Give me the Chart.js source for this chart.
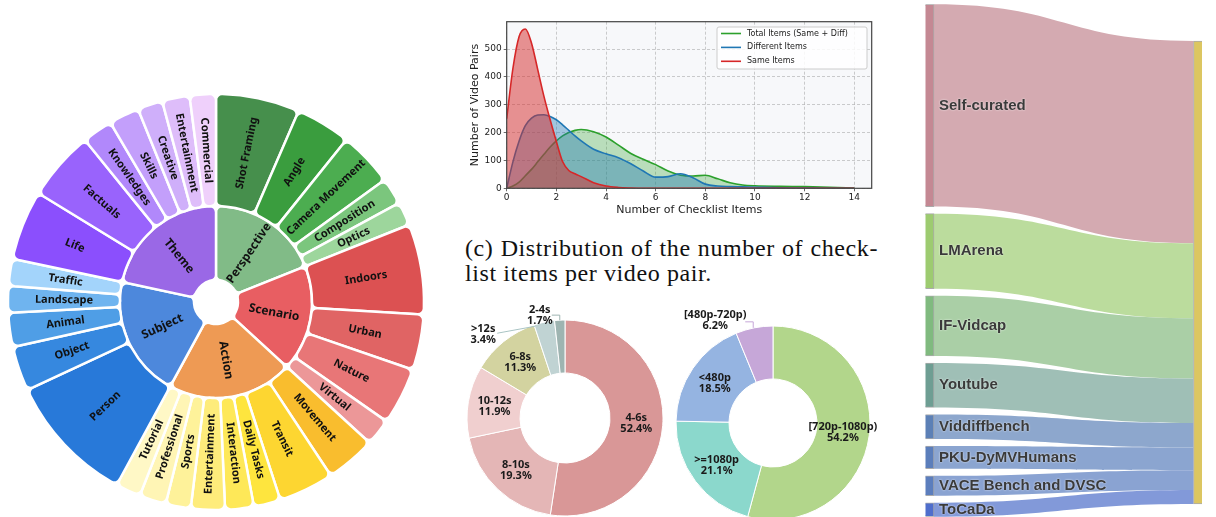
<!DOCTYPE html>
<html>
<head>
<meta charset="utf-8">
<script src="https://cdn.jsdelivr.net/npm/chart.js@4.4.1/dist/chart.umd.min.js"></script>
<style>
  html, body { margin: 0; padding: 0; background: #fff; }
  body { position: relative; width: 1216px; height: 517px; overflow: hidden; }
  canvas { position: absolute; }
  .caption { position: absolute; left: 465px; top: 236px; font-family: "Liberation Serif", serif; font-size: 24px; line-height: 25px; letter-spacing: 0.6px; color: #111; white-space: nowrap; }
  .caption span { display: inline-block; }
</style>
</head>
<body>
<canvas id="sunburst" width="440" height="517" style="left:0;top:0"></canvas>
<canvas id="checklistChart" width="420" height="222" style="left:460px;top:0"></canvas>
<div class="caption"><span id="capLine1">(c) Distribution of the number of check-</span><br><span>list items per video pair.</span></div>
<canvas id="durationChart" width="230" height="230" style="left:450px;top:300px"></canvas>
<canvas id="resolutionChart" width="210" height="230" style="left:670px;top:300px"></canvas>
<canvas id="sourceChart" width="311" height="517" style="left:905px;top:0"></canvas>
<script>
// ==================== data ====================
// sunburst: top level categories, clockwise from 12 o'clock
const topicCategories = ['Perspective', 'Scenario', 'Action', 'Subject', 'Theme'];
const topicColors = ['#81bb87', '#e85e62', '#ee9a54', '#4d88dc', '#9a68e6'];

const perspectiveItems = ['Shot Framing', 'Angle', 'Camera Movement', 'Composition', 'Optics'];
const perspectiveShare = [23.4, 15.4, 15.3, 7.5, 6.6];
const perspectiveColors = ['#468f4c', '#3a9d3e', '#4cad50', '#7bc67d', '#9dd69c'];

const scenarioItems = ['Indoors', 'Urban', 'Nature', 'Virtual'];
const scenarioShare = [25.3, 15.5, 16, 7.5];
const scenarioColors = ['#dc5152', '#e06464', '#e87677', '#ec9798'];

const actionItems = ['Movement', 'Transit', 'Daily Tasks', 'Interaction', 'Entertainment', 'Sports', 'Professional', 'Tutorial'];
const actionShare = [14, 15.5, 7.5, 8, 9.5, 7, 7.5, 7];
const actionColors = ['#f9bd2e', '#fdd631', '#fee53e', '#fee858', '#feec7b', '#fef29a', '#fff5b5', '#fff8c6'];

const subjectItems = ['Person', 'Object', 'Animal', 'Landscape', 'Traffic'];
const subjectShare = [36.5, 12.5, 9.5, 7.5, 7.5];
const subjectColors = ['#2879d9', '#3688df', '#4f9ee6', '#6fb4ef', '#a3d4fb'];

const themeItems = ['Life', 'Factuals', 'Knowledges', 'Skills', 'Creative', 'Entertainment', 'Commercial'];
const themeShare = [19.5, 19.5, 8.5, 8.5, 7, 7.7, 7.3];
const themeColors = ['#8b4ffd', '#9963fc', '#b188fb', '#c39ffb', '#cfaffa', '#debdfa', '#efd0fb'];

// checklist KDE (x = number of checklist items)
const checklistX =     [0, 0.25, 0.5, 0.75, 1, 1.25, 1.5, 1.75, 2, 2.25, 2.5, 2.75, 3, 3.5, 4, 4.5, 5, 5.5, 6, 6.5, 7, 7.5, 8, 8.5, 9, 9.5, 10, 11, 12, 13, 14];
const totalItems =     [0, 8, 22, 45, 68, 95, 122, 148, 170, 188, 200, 208, 211, 203, 184, 155, 125, 104, 85, 62, 47, 44, 47, 34, 20, 12, 9, 7, 6, 4, 1];
const differentItems = [0, 95, 170, 225, 252, 263, 264, 258, 246, 228, 208, 188, 170, 140, 124, 110, 88, 62, 40, 42, 52, 38, 15, 8, 6, 5, 4, 2, 1, 0, 0];
const sameItems =      [250, 430, 545, 572, 521, 426, 330, 246, 168, 96, 64, 52, 42, 20, 8, 3, 1, 0, 0, 0, 0, 0, 0, 0, 0, 0, 0, 0, 0, 0, 0];
const checklistTicksX = [0, 2, 4, 6, 8, 10, 12, 14];
const checklistTicksY = [0, 100, 200, 300, 400, 500];

// video duration
const durationLabels = ['4-6s', '8-10s', '10-12s', '6-8s', '>12s', '2-4s'];
const durationShare = [52.4, 19.3, 11.9, 11.3, 3.4, 1.7];
const durationColors = ['#d99797', '#e4b6b6', '#f0cfcf', '#d3d3a0', '#c0d3d3', '#9eb4b1'];

// video resolution
const resolutionLabels = ['[720p-1080p)', '>=1080p', '<480p', '[480p-720p)'];
const resolutionShare = [54.2, 21.1, 18.5, 6.2];
const resolutionColors = ['#b2d68b', '#8bd8cc', '#95b4e1', '#c6a7d8'];

// data sources (sankey)
const sourceNames = ['Self-curated', 'LMArena', 'IF-Vidcap', 'Youtube', 'Viddiffbench', 'PKU-DyMVHumans', 'VACE Bench and DVSC', 'ToCaDa'];
const sourceShare = [43.7, 16.2, 13.0, 9.6, 5.3, 4.9, 4.3, 3.0];
const sourceNodeColors = ['#c48893', '#9dcb70', '#80ba7f', '#6e9e93', '#5c80b6', '#5b7ebb', '#5c7ebd', '#4f6ecc'];
const sourceLinkColors = ['#d4aab1', '#bbdc9d', '#aacfa6', '#9fbfb6', '#8da7cd', '#8ba5d0', '#8aa3d2', '#8299d9'];
const targetColor = '#dcc661';

// ==================== sunburst ====================
const groupItems = [perspectiveItems, scenarioItems, actionItems, subjectItems, themeItems];
const groupShare = [perspectiveShare, scenarioShare, actionShare, subjectShare, themeShare];
const groupColors = [perspectiveColors, scenarioColors, actionColors, subjectColors, themeColors];

const ringLabels = {
    id: 'ringLabels',
    afterDatasetsDraw(chart) {
        const ctx = chart.ctx;
        chart.data.datasets.forEach((ds, di) => {
            const meta = chart.getDatasetMeta(di);
            meta.data.forEach((arc, i) => {
                const p = arc.getProps(['x', 'y', 'startAngle', 'endAngle', 'innerRadius', 'outerRadius'], true);
                const mid = (p.startAngle + p.endAngle) / 2;
                const r = (p.innerRadius + p.outerRadius) / 2;
                // left half gets flipped so text never reads upside down
                const rot = mid > Math.PI / 2 ? mid - Math.PI : mid;
                ctx.save();
                ctx.translate(p.x + Math.cos(mid) * r, p.y + Math.sin(mid) * r);
                ctx.rotate(rot);
                ctx.font = ds.labelFont;
                ctx.fillStyle = '#111';
                ctx.textAlign = 'center';
                ctx.textBaseline = 'middle';
                ctx.fillText(ds.itemLabels[i], 0, 0);
                ctx.restore();
            });
        });
    }
};

new Chart(document.getElementById('sunburst'), {
    type: 'doughnut',
    data: {
        labels: groupItems.flat(),
        datasets: [{
            data: groupShare.flat(),
            itemLabels: groupItems.flat(),
            backgroundColor: groupColors.flat(),
            labelFont: 'bold 11px "Noto Sans"',
            weight: 112,
            borderColor: '#fff',
            borderWidth: 2.5,
            borderRadius: 6
        }, {
            data: groupShare.map(arr => arr.reduce((a, b) => a + b, 0)),
            itemLabels: topicCategories,
            backgroundColor: topicColors,
            labelFont: 'bold 12px "Noto Sans"',
            weight: 74,
            borderColor: '#fff',
            borderWidth: 2.5,
            borderRadius: 6
        }]
    },
    options: {
        responsive: false,
        animation: false,
        events: [],
        cutout: 22,
        hoverOffset: 0,
        layout: { padding: { left: 6.75, top: 92.75, right: 14.75, bottom: 5.75 } },
        plugins: { legend: { display: false }, tooltip: { enabled: false } }
    },
    plugins: [ringLabels]
});

// ==================== checklist KDE ====================
const plotFrame = {
    id: 'plotFrame',
    beforeDraw(chart) {
        const { ctx, chartArea: a } = chart;
        ctx.save();
        ctx.fillStyle = '#f7f8fa';
        ctx.fillRect(a.left, a.top, a.right - a.left, a.bottom - a.top);
        ctx.restore();
    },
    afterDraw(chart) {
        const { ctx, chartArea: a } = chart;
        ctx.save();
        ctx.strokeStyle = '#444';
        ctx.lineWidth = 1.2;
        ctx.strokeRect(a.left, a.top, a.right - a.left, a.bottom - a.top);

        // legend box, top right inside the axes
        const w = 150, h = 42;
        const x = a.right - 4.7 - w, y = a.top + 5.3;
        ctx.fillStyle = 'rgba(255,255,255,0.85)';
        ctx.strokeStyle = '#cccccc';
        ctx.lineWidth = 1;
        ctx.beginPath();
        ctx.roundRect(x, y, w, h, 2);
        ctx.fill();
        ctx.stroke();
        ctx.font = '8px "DejaVu Sans"';
        ctx.textBaseline = 'middle';
        ctx.fillStyle = '#222';
        chart.data.datasets.forEach((ds, i) => {
            const ly = y + 6.5 + i * 13.9;
            ctx.strokeStyle = ds.borderColor;
            ctx.lineWidth = 1.6;
            ctx.beginPath();
            ctx.moveTo(x + 4, ly);
            ctx.lineTo(x + 24, ly);
            ctx.stroke();
            ctx.fillText(ds.label, x + 30, ly);
        });
        ctx.restore();
    }
};

const toPoints = ys => checklistX.map((x, i) => ({ x: x, y: ys[i] }));
const axisFont = { family: 'DejaVu Sans', size: 9 };
const titleFont = { family: 'DejaVu Sans', size: 11 };
const gridStyle = { color: 'rgba(160,160,160,0.75)', lineWidth: 0.7, drawTicks: true, tickLength: 3, tickColor: '#444', tickWidth: 0.8 };

new Chart(document.getElementById('checklistChart'), {
    type: 'line',
    data: {
        datasets: [{
            label: 'Total Items (Same + Diff)',
            data: toPoints(totalItems),
            borderColor: '#2ca02c',
            backgroundColor: 'rgba(44,160,44,0.3)',
            order: 2
        }, {
            label: 'Different Items',
            data: toPoints(differentItems),
            borderColor: '#1f77b4',
            backgroundColor: 'rgba(31,119,180,0.4)',
            order: 1
        }, {
            label: 'Same Items',
            data: toPoints(sameItems),
            borderColor: '#d62728',
            backgroundColor: 'rgba(214,39,40,0.5)',
            order: 0
        }]
    },
    options: {
        responsive: false,
        animation: false,
        events: [],
        layout: { padding: { top: 21.7, right: 8.3, left: 0, bottom: 0 } },
        elements: {
            line: { borderWidth: 1.6, fill: 'origin', cubicInterpolationMode: 'monotone' },
            point: { radius: 0 }
        },
        plugins: { legend: { display: false }, tooltip: { enabled: false } },
        scales: {
            x: {
                type: 'linear', min: 0, max: 14.7,
                afterBuildTicks: s => { s.ticks = checklistTicksX.map(v => ({ value: v })); },
                afterFit: s => { s.height = 33.7; },
                ticks: { color: '#222', font: axisFont, padding: 1, maxRotation: 0, autoSkip: false },
                grid: gridStyle,
                border: { display: false, dash: [3, 2] },
                title: { display: true, text: 'Number of Checklist Items', color: '#222', font: titleFont, padding: { top: 0, bottom: 5 } }
            },
            y: {
                min: 0, max: 598,
                afterBuildTicks: s => { s.ticks = checklistTicksY.map(v => ({ value: v })); },
                afterFit: s => { s.width = 46.7; },
                ticks: { color: '#222', font: axisFont, padding: 2, autoSkip: false },
                grid: gridStyle,
                border: { display: false, dash: [3, 2] },
                title: { display: true, text: 'Number of Video Pairs', color: '#222', font: titleFont, padding: { top: 8.4, bottom: 0 } }
            }
        }
    },
    plugins: [plotFrame]
});

// caption: stretch first line to the column width
const capLine1 = document.getElementById('capLine1');
capLine1.style.wordSpacing = ((413 - capLine1.getBoundingClientRect().width) / 6) + 'px';

// ==================== donuts ====================
const donutLabels = {
    id: 'donutLabels',
    afterDatasetsDraw(chart, args, opts) {
        const ctx = chart.ctx;
        const meta = chart.getDatasetMeta(0);
        const ds = chart.data.datasets[0];
        ctx.save();
        ctx.font = 'bold 11px "Noto Sans"';
        ctx.fillStyle = '#1a1a1a';
        ctx.textAlign = 'center';
        ctx.textBaseline = 'middle';
        meta.data.forEach((arc, i) => {
            const p = arc.getProps(['x', 'y', 'startAngle', 'endAngle', 'innerRadius', 'outerRadius'], true);
            const mid = (p.startAngle + p.endAngle) / 2;
            const text = [chart.data.labels[i], ds.data[i].toFixed(1) + '%'];
            const out = opts.outside && opts.outside[i];
            let cx, cy;
            if (out) {
                // small slice: label outside with a leader line
                const ax = p.x + Math.cos(mid) * p.outerRadius;
                const ay = p.y + Math.sin(mid) * p.outerRadius;
                cx = ax + out.dx;
                cy = ay + out.dy;
                ctx.strokeStyle = out.line;
                ctx.lineWidth = 1;
                ctx.beginPath();
                out.path.forEach((pt, k) => {
                    if (k === 0) ctx.moveTo(ax + pt[0], ay + pt[1]);
                    else ctx.lineTo(ax + pt[0], ay + pt[1]);
                });
                ctx.stroke();
            } else {
                const r = (p.innerRadius + p.outerRadius) / 2;
                cx = p.x + Math.cos(mid) * r;
                cy = p.y + Math.sin(mid) * r;
            }
            ctx.fillText(text[0], cx, cy - 5.5);
            ctx.fillText(text[1], cx, cy + 5.5);
        });
        ctx.restore();
    }
};

function makeDonut(id, labels, values, colors, cutout, padding, outside) {
    return new Chart(document.getElementById(id), {
        type: 'doughnut',
        data: {
            labels: labels,
            datasets: [{ data: values, backgroundColor: colors, borderColor: '#fff', borderWidth: 1 }]
        },
        options: {
            responsive: false,
            animation: false,
            events: [],
            cutout: cutout,
            hoverOffset: 0,
            layout: { padding: padding },
            plugins: { legend: { display: false }, tooltip: { enabled: false }, donutLabels: { outside: outside } }
        },
        plugins: [donutLabels]
    });
}

makeDonut('durationChart', durationLabels, durationShare, durationColors, 45,
    { left: 16.5, top: 19.5, right: 16.5, bottom: 13.5 },
    {
        4: { dx: -61, dy: 12, line: '#a9c4c4', path: [[-9, 4], [-47, 11]] },
        5: { dx: -20, dy: -5, line: '#9eb4b1', path: [[0, 0], [0, -5], [-8, -5]] }
    });

makeDonut('resolutionChart', resolutionLabels, resolutionShare, resolutionColors, 44,
    { left: 5.5, top: 25.5, right: 9.5, bottom: 9.5 },
    {
        3: { dx: -39, dy: -7, line: '#c6a7d8', path: [[-1, 0], [-1, -6], [-9, -6]] }
    });

// ==================== sankey ====================
const nodeGap = 1.525;
const sourceRanges = [];
let cursor = 0;
sourceShare.forEach(v => {
    sourceRanges.push([cursor, cursor + v]);
    cursor += v + nodeGap;
});
const sankeyMax = cursor - nodeGap;
const targetTop = 7.93;
const targetTotal = sourceShare.reduce((a, b) => a + b, 0);

const sankeyLinks = {
    id: 'sankeyLinks',
    beforeDatasetsDraw(chart) {
        const { ctx, scales: { x, y } } = chart;
        const x0 = x.getPixelForValue(0) + 8.5;
        const x1 = x.getPixelForValue(1) - 8.5;
        const xm = (x0 + x1) / 2;
        let acc = targetTop;
        ctx.save();
        sourceRanges.forEach((rng, i) => {
            const l0 = y.getPixelForValue(rng[0]), l1 = y.getPixelForValue(rng[1]);
            const r0 = y.getPixelForValue(acc), r1 = y.getPixelForValue(acc + sourceShare[i]);
            acc += sourceShare[i];
            ctx.fillStyle = sourceLinkColors[i];
            ctx.beginPath();
            ctx.moveTo(x0, l0);
            ctx.bezierCurveTo(xm, l0, xm, r0, x1, r0);
            ctx.lineTo(x1, r1);
            ctx.bezierCurveTo(xm, r1, xm, l1, x0, l1);
            ctx.closePath();
            ctx.fill();
        });
        ctx.restore();
    },
    afterDatasetsDraw(chart) {
        const { ctx, scales: { x, y } } = chart;
        const lx = x.getPixelForValue(0) + 8.5 + 5;
        ctx.save();
        ctx.font = 'bold 15px "Liberation Sans"';
        ctx.textBaseline = 'middle';
        ctx.shadowColor = 'rgba(255,255,255,0.9)';
        ctx.shadowBlur = 2;
        ctx.fillStyle = '#3a3a3a';
        sourceRanges.forEach((rng, i) => {
            ctx.fillText(sourceNames[i], lx, y.getPixelForValue((rng[0] + rng[1]) / 2));
        });
        ctx.restore();
    }
};

new Chart(document.getElementById('sourceChart'), {
    type: 'bar',
    data: {
        datasets: [{
            data: sourceRanges.map(r => ({ x: 0, y: r })).concat([{ x: 1, y: [targetTop, targetTop + targetTotal] }]),
            backgroundColor: sourceNodeColors.concat([targetColor]),
            borderColor: '#aaaaaa',
            borderWidth: 1,
            borderSkipped: false,
            barThickness: 17
        }]
    },
    options: {
        responsive: false,
        animation: false,
        events: [],
        layout: { padding: { left: 20.5, right: 14, top: 4.3, bottom: 0.3 } },
        plugins: { legend: { display: false }, tooltip: { enabled: false } },
        scales: {
            x: { type: 'linear', min: 0, max: 1, offset: false, display: false },
            y: { min: 0, max: sankeyMax, reverse: true, display: false }
        }
    },
    plugins: [sankeyLinks]
});
</script>
</body>
</html>
